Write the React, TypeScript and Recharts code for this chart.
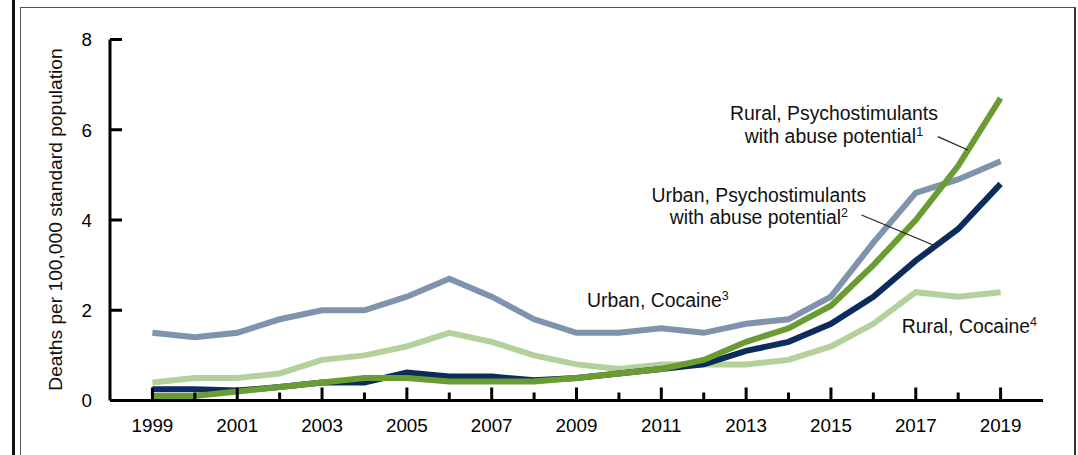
import React from "react";
import { LineChart, Line, XAxis, YAxis, ReferenceLine, ReferenceDot } from "recharts";

const years = [1999, 2000, 2001, 2002, 2003, 2004, 2005, 2006, 2007, 2008, 2009, 2010, 2011, 2012, 2013, 2014, 2015, 2016, 2017, 2018, 2019];
const urbanCocaine = [1.5, 1.4, 1.5, 1.8, 2.0, 2.0, 2.3, 2.7, 2.3, 1.8, 1.5, 1.5, 1.6, 1.5, 1.7, 1.8, 2.3, 3.5, 4.6, 4.9, 5.3];
const ruralCocaine = [0.4, 0.5, 0.5, 0.6, 0.9, 1.0, 1.2, 1.5, 1.3, 1.0, 0.8, 0.7, 0.8, 0.8, 0.8, 0.9, 1.2, 1.7, 2.4, 2.3, 2.4];
const urbanPsycho = [0.25, 0.25, 0.22, 0.3, 0.4, 0.4, 0.62, 0.53, 0.53, 0.45, 0.5, 0.6, 0.7, 0.8, 1.1, 1.3, 1.7, 2.3, 3.1, 3.8, 4.8];
const ruralPsycho = [0.1, 0.1, 0.2, 0.3, 0.4, 0.5, 0.5, 0.42, 0.42, 0.42, 0.5, 0.6, 0.7, 0.9, 1.3, 1.6, 2.1, 3.0, 4.0, 5.2, 6.7];
const yTicks = [0, 2, 4, 6, 8];
const xTicks = years;
const labeledYears = [1999, 2001, 2003, 2005, 2007, 2009, 2011, 2013, 2015, 2017, 2019];

const data = years.map((y, i) => ({
  year: y,
  urbanCocaine: urbanCocaine[i],
  ruralCocaine: ruralCocaine[i],
  urbanPsycho: urbanPsycho[i],
  ruralPsycho: ruralPsycho[i],
}));

const FONT = '"Liberation Sans", Arial, sans-serif';
const C_URBAN_COC = "#8093ad";
const C_RURAL_COC = "#b5d19b";
const C_URBAN_PSY = "#0c2d5b";
const C_RURAL_PSY = "#6b9c33";
const TICK_FS = 18.8;
const LABEL_FS = 19.4;

const XTick = (props: any) => {
  const { x, y, payload } = props;
  const v = payload.value;
  const major = labeledYears.includes(v);
  return (
    <g>
      <line x1={x} x2={x} y1={y} y2={y - (major ? 13 : 8)} stroke="#000" strokeWidth={3} />
      {major && (
        <text x={x} y={y + 31} textAnchor="middle" fontSize={TICK_FS} fill="#000" fontFamily={FONT}>
          {v}
        </text>
      )}
    </g>
  );
};

const YTick = (props: any) => {
  const { x, y, payload } = props;
  return (
    <g>
      <line x1={x} x2={x + 12} y1={y} y2={y} stroke="#000" strokeWidth={3} />
      <text x={x - 18} y={y} dy="0.36em" textAnchor="end" fontSize={TICK_FS} fill="#000" fontFamily={FONT}>
        {payload.value}
      </text>
    </g>
  );
};

const TwoLine = (l1: string, l2: string, sup: string) => (p: any) => (
  <text x={p.cx} y={p.cy} textAnchor="middle" fontSize={LABEL_FS} fill="#111" fontFamily={FONT}>
    <tspan x={p.cx} y={p.cy}>{l1}</tspan>
    <tspan x={p.cx} y={p.cy + 22.5}>{l2}<tspan dy={-7} fontSize={12.5}>{sup}</tspan></tspan>
  </text>
);

const OneLine = (l1: string, sup: string) => (p: any) => (
  <text x={p.cx} y={p.cy} textAnchor="start" fontSize={LABEL_FS} fill="#111" fontFamily={FONT}>
    {l1}<tspan dy={-7} fontSize={12.5}>{sup}</tspan>
  </text>
);

export default function App() {
  return (
    <div style={{ position: "fixed", left: 0, top: 0, width: 1078, height: 455, background: "#fff", overflow: "hidden", fontFamily: FONT }}>
      <div style={{ position: "absolute", left: 12, top: 0, width: 2.5, height: 455, background: "#111" }} />
      <div style={{ position: "absolute", left: 20, top: 7, width: 1053, height: 460, borderTop: "1.5px solid #555", borderLeft: "1.5px solid #555", borderRight: "2px solid #333" }} />
      <div style={{ position: "absolute", left: 0, top: 0 }}>
        <LineChart width={1078} height={455} data={data} margin={{ top: 39.5, right: 35, bottom: 24.5, left: 0 }}>
          <XAxis
            dataKey="year"
            type="number"
            domain={[1998, 2020]}
            ticks={xTicks}
            interval={0}
            tickSize={0}
            tickMargin={0}
            tickLine={false}
            height={30}
            axisLine={{ stroke: "#000", strokeWidth: 3 }}
            tick={<XTick />}
          />
          <YAxis
            type="number"
            domain={[0, 8]}
            ticks={yTicks}
            interval={0}
            width={110}
            tickSize={0}
            tickMargin={0}
            tickLine={false}
            axisLine={{ stroke: "#000", strokeWidth: 3 }}
            tick={<YTick />}
          />
          <Line type="linear" dataKey="ruralCocaine" stroke={C_RURAL_COC} strokeWidth={6} dot={false} isAnimationActive={false} />
          <Line type="linear" dataKey="urbanCocaine" stroke={C_URBAN_COC} strokeWidth={6} dot={false} isAnimationActive={false} />
          <Line type="linear" dataKey="urbanPsycho" stroke={C_URBAN_PSY} strokeWidth={6} dot={false} isAnimationActive={false} />
          <Line type="linear" dataKey="ruralPsycho" stroke={C_RURAL_PSY} strokeWidth={6} dot={false} isAnimationActive={false} />
          <ReferenceLine segment={[{ x: 2017.52, y: 5.846 }, { x: 2018.23, y: 5.551 }]} stroke="#222" strokeWidth={1.3} />
          <ReferenceLine segment={[{ x: 2015.72, y: 4.111 }, { x: 2017.41, y: 3.446 }]} stroke="#222" strokeWidth={1.3} />
          <ReferenceDot x={2015.07} y={6.216} r={0} shape={TwoLine("Rural, Psychostimulants", "with abuse potential", "1")} />
          <ReferenceDot x={2013.3} y={4.406} r={0} shape={TwoLine("Urban, Psychostimulants", "with abuse potential", "2")} />
          <ReferenceDot x={2009.25} y={2.072} r={0} shape={OneLine("Urban, Cocaine", "3")} />
          <ReferenceDot x={2016.67} y={1.489} r={0} shape={OneLine("Rural, Cocaine", "4")} />
        </LineChart>
      </div>
      <svg style={{ position: "absolute", left: 0, top: 0 }} width={1078} height={455}>
        <text transform="rotate(-90, 62, 219.5)" x={62} y={219.5} textAnchor="middle" fontSize={19.2} fill="#111" fontFamily={FONT}>
          Deaths per 100,000 standard population
        </text>
      </svg>
    </div>
  );
}
